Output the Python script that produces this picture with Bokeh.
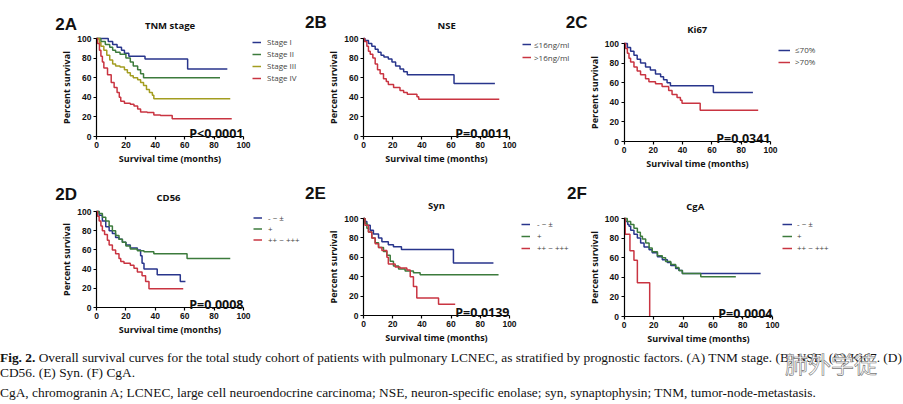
from bokeh.plotting import figure
from bokeh.models import Range1d, Label, Legend, LegendItem, Div, LinearAxis
from bokeh.layouts import row, column
from bokeh.embed import file_html
from bokeh.resources import INLINE

# ---------------- data ----------------
ticks = [0, 20, 40, 60, 80, 100]

# 2A TNM stage
tnm_labels = ["Stage I", "Stage II", "Stage III", "Stage IV"]
tnm_I_t = [0, 8, 11, 14, 17, 19, 22, 33, 62, 89]
tnm_I_s = [100, 97, 94, 91, 88, 85, 82, 79, 69, 69]
tnm_II_t = [0, 3, 6, 9, 11, 13, 16, 20, 23, 25, 28, 30, 32, 84]
tnm_II_s = [100, 97, 94, 91, 88, 86, 84, 80, 76, 72, 68, 64, 60, 60]
tnm_III_t = [0, 2, 3, 5, 7, 9, 11, 13, 16, 19, 21, 23, 25, 28, 30, 32, 34, 36, 38, 39, 91]
tnm_III_s = [100, 96, 92, 88, 83, 78, 74, 72, 71, 68, 65, 62, 60, 58, 55, 52, 48, 45, 42, 38.5, 38.5]
tnm_IV_t = [0, 0.7, 2, 3, 4, 5, 7.5, 10, 12, 14, 15.5, 16.5, 19, 23, 25.5, 28, 30, 34.5, 39, 43.5, 51.5, 92]
tnm_IV_s = [100, 95, 88, 82, 76, 70, 63, 55, 50, 45, 40, 36, 34, 33, 31, 28, 25, 24.5, 22, 21.5, 18, 18]

# 2B NSE
nse_labels = ["\u226416ng/ml", ">16ng/ml"]
nse_lo_t = [0, 1, 3.4, 5.7, 8, 10, 12, 14, 17, 19.5, 22, 25, 27.5, 30, 62, 90]
nse_lo_s = [100, 98, 95, 92, 89, 86, 83, 81, 79, 76, 72, 69, 66, 63, 54, 54]
nse_hi_t = [0, 0.7, 2.3, 3.4, 4.6, 6.4, 8, 9.6, 11.4, 13.7, 15.6, 17, 20.6, 25, 27.5, 30, 36.6, 37.8, 93]
nse_hi_s = [100, 97, 92, 87, 84, 80, 74, 68, 64, 59, 56, 53, 50, 47, 45, 43, 40.5, 38, 38]

# 2C Ki67
ki_labels = ["\u226470%", ">70%"]
ki_lo_t = [0, 2.3, 4.5, 6.8, 9, 11.3, 14.7, 18, 21.5, 25, 27, 29.4, 31.7, 61, 88]
ki_lo_s = [100, 96, 92, 88, 84, 80, 76, 73, 69, 66, 63, 60, 57, 50, 50]
ki_hi_t = [0, 1.1, 2.3, 3.4, 4.5, 6.8, 9, 11.3, 14.7, 17, 21.5, 26, 30.5, 32.8, 36.2, 38.5, 39.6, 52, 91.6]
ki_hi_s = [100, 95, 90, 85, 81, 76, 72, 68, 64, 61, 59, 56, 52, 48, 45, 42, 39, 32, 32]

# 2D CD56
grade_labels = ["- ~ \u00b1", "+", "++ ~ +++"]
cd_neg_t = [0, 1.8, 4, 6.3, 8.6, 10.8, 13, 15.3, 17.6, 20, 23, 27.8, 30, 31, 32.3, 41.3, 57, 60.5]
cd_neg_s = [100, 96, 90, 84, 80, 77, 73, 71, 68, 65, 62, 60, 54, 46, 40, 34, 27, 27]
cd_pos_t = [0, 1.8, 4, 6.3, 8.6, 10.8, 13, 15.3, 17.6, 20, 23, 27.8, 32.3, 39, 61.6, 91]
cd_pos_s = [100, 98, 94, 90, 85, 80, 75, 71, 68, 64, 61, 59, 58, 56, 51, 51]
cd_strong_t = [0, 0.7, 1.8, 3, 4, 5.5, 7.4, 8.6, 10.8, 13, 15.3, 16.5, 18.7, 23, 25.5, 27.8, 31, 33.4, 35.7, 59]
cd_strong_s = [100, 95, 90, 85, 80, 76, 70, 65, 60, 56, 51, 48, 46, 44, 41, 37, 33, 27, 19.5, 19.5]

# 2E Syn
syn_neg_t = [0, 1, 2.3, 4.6, 6.8, 10.3, 12.6, 17, 20.5, 26, 61.6, 89]
syn_neg_s = [100, 97, 93, 88, 84, 80, 76, 73, 71, 68, 54, 54]
syn_pos_t = [0, 1, 2.3, 3.4, 5.7, 8, 10.3, 13.7, 16, 18.3, 20.5, 24, 28.5, 34.2, 38.8, 92.5]
syn_pos_s = [100, 95, 90, 86, 80, 75, 70, 66, 62, 56, 51, 48, 46, 44, 42, 42]
syn_strong_t = [0, 1, 3.4, 5.7, 8, 10.3, 12.6, 16, 17, 21.7, 25, 29.7, 32, 34.2, 36.5, 51.4, 62.8]
syn_strong_s = [100, 93, 86, 80, 74, 70, 67, 60, 53, 50, 49, 47, 40, 30, 18, 11.5, 11.5]

# 2F CgA
cga_neg_t = [0, 1.1, 2.5, 3.4, 4.5, 6.7, 9, 11.2, 13.5, 16.9, 19, 22.5, 25.8, 29.2, 31.5, 34.8, 37, 39.3, 92]
cga_neg_s = [100, 97, 94, 92, 88, 84, 80, 75, 71, 68, 65, 61, 58, 55, 52, 49, 47, 44, 44]
cga_pos_t = [0, 2.2, 4.5, 6.7, 9, 11, 12.4, 14.6, 16.9, 19, 22.5, 25.8, 28, 31.5, 34.8, 37, 39.3, 51.7, 75.3]
cga_pos_s = [100, 97, 94, 90, 86, 82, 79, 75, 70, 66, 62, 60, 56, 53, 50, 47, 44, 40.5, 40.5]
cga_strong_t = [0, 0.8, 4, 6.7, 9, 17.3]
cga_strong_s = [100, 84, 67, 57.5, 34.5, 0]

p_values = ["P<0.0001", "P=0.0011", "P=0.0341", "P=0.0008", "P=0.0139", "P=0.0004"]
titles = ["TNM stage", "NSE", "Ki67", "CD56", "Syn", "CgA"]
letters = ["2A", "2B", "2C", "2D", "2E", "2F"]

BLUE = "#28358c"
GREEN = "#3c7b3c"
OLIVE = "#a39d20"
RED = "#c93441"

SANS = "Open Sans"


def letter_label(x, y, text):
    return Label(x=x, y=y, text=text, text_align="left", text_baseline="alphabetic",
                 text_font="Liberation Sans", text_font_style="bold",
                 text_font_size="17px", text_color="#111111")


def panel(fig_box, plot_box, curves, colors, labels, title, title_xy,
          letter, letter_xy, pval, leg_px, leg_h, leg_sp, leg_gw, leg_so):
    fx, fy, w, h = fig_box
    x0, x100, y100, y0 = plot_box
    kx = (x100 - x0) / 100.0
    xs = -(x0 - fx) / kx
    ky = (y0 - y100) / 100.0
    ys = -((fy + h) - y0) / ky
    p = figure(width=w, height=h, output_backend="svg", toolbar_location=None,
               x_range=Range1d(xs, xs + w / kx), y_range=Range1d(ys, ys + h / ky),
               x_axis_location=None, y_axis_location=None,
               min_border=0, min_border_left=0, min_border_right=0,
               min_border_top=0, min_border_bottom=0)
    p.outline_line_color = None
    p.grid.visible = False
    p.background_fill_color = "white"
    p.border_fill_color = "white"
    xa = LinearAxis(fixed_location=0, bounds=(0, 100), axis_label="Survival time (months)")
    ya = LinearAxis(fixed_location=0, bounds=(0, 100), axis_label="Percent survival")
    for ax in (xa, ya):
        ax.ticker = ticks
        ax.minor_tick_line_color = None
        ax.axis_line_color = "black"
        ax.axis_line_width = 1.2
        ax.major_tick_line_color = "black"
        ax.major_tick_line_width = 1.2
        ax.major_tick_in = 0
        ax.major_tick_out = 3
        ax.major_label_standoff = 2
        ax.major_label_text_font = "Liberation Sans"
        ax.major_label_text_font_style = "bold"
        ax.major_label_text_font_size = "8.5px"
        ax.major_label_text_color = "#111111"
        ax.axis_label_text_font = SANS
        ax.axis_label_text_font_style = "bold"
        ax.axis_label_text_font_size = "9px"
        ax.axis_label_text_color = "#111111"
    xa.axis_label_standoff = 1
    ya.axis_label_standoff = 1
    p.add_layout(xa, "below")
    p.add_layout(ya, "left")

    items = []
    for (t, s), c, lab in zip(curves, colors, labels):
        r = p.step(t, s, mode="after", line_color=c, line_width=1.5)
        items.append(LegendItem(label=lab, renderers=[r]))
    # legend position in pixels from the figure's bottom-left corner
    lx, ly_top = leg_px
    n = len(labels)
    leg_height = n * leg_h + (n - 1) * leg_sp
    loc = (lx - fx, (fy + h) - (ly_top + leg_height))
    leg = Legend(items=items, location=loc, orientation="vertical",
                 padding=0, margin=0, spacing=leg_sp, glyph_width=leg_gw, glyph_height=leg_h,
                 label_height=leg_h, label_standoff=leg_so,
                 label_text_font=SANS, label_text_font_size="8px",
                 label_text_color="#444444",
                 border_line_alpha=0, background_fill_alpha=0)
    p.add_layout(leg, "center")

    p.add_layout(Label(x=title_xy[0], y=100 + title_xy[1], text=title, text_align="center",
                       text_baseline="alphabetic", text_font=SANS, text_font_style="bold",
                       text_font_size="9.5px", text_color="#111111"))
    if letter:
        p.add_layout(letter_label(letter_xy[0], 100 + letter_xy[1], letter))
    p.add_layout(Label(x=100, y=3, text=pval, text_align="right", text_baseline="alphabetic",
                       text_font=SANS, text_font_style="bold", text_font_size="12.5px",
                       text_color="#111111"))
    return p


SPLIT = 588

pA = panel((0, 0, 300, 177), (96, 243, 38, 136),
           [(tnm_I_t, tnm_I_s), (tnm_II_t, tnm_II_s), (tnm_III_t, tnm_III_s), (tnm_IV_t, tnm_IV_s)],
           [BLUE, GREEN, OLIVE, RED], tnm_labels, titles[0], (50, 13),
           letters[0], (-28, 14), p_values[0], (252, 40), 10, 1, 9, 6)
pB = panel((300, 0, SPLIT - 300, 177), (363, 509, 38, 136),
           [(nse_lo_t, nse_lo_s), (nse_hi_t, nse_hi_s)],
           [BLUE, RED], nse_labels, titles[1], (57, 13),
           letters[1], (-40, 16), p_values[1], (522, 38), 12, 1, 9, 3)
# panel letter "2C" sits to the left of the Ki67 panel, over the NSE figure's canvas
pB.add_layout(letter_label(138.6, 116.3, letters[2]))
pC = panel((SPLIT, 0, 903 - SPLIT, 177), (623.5, 770, 43, 141),
           [(ki_lo_t, ki_lo_s), (ki_hi_t, ki_hi_s)],
           [BLUE, RED], ki_labels, titles[2], (50, 14),
           None, None, p_values[2], (778, 46), 10, 1, 12, 5)
pD = panel((0, 177, 300, 168), (96, 243, 211, 307),
           [(cd_neg_t, cd_neg_s), (cd_pos_t, cd_pos_s), (cd_strong_t, cd_strong_s)],
           [BLUE, GREEN, RED], grade_labels, titles[3], (49, 14.5),
           letters[3], (-28, 18), p_values[3], (253, 212), 11, 0, 9, 6)
pE = panel((300, 177, SPLIT - 300, 168), (363, 509, 218, 315),
           [(syn_neg_t, syn_neg_s), (syn_pos_t, syn_pos_s), (syn_strong_t, syn_strong_s)],
           [BLUE, GREEN, RED], grade_labels, titles[4], (50, 13),
           letters[4], (-40, 26), p_values[4], (521, 221), 10, 1, 9, 7)
pE.add_layout(letter_label(139.4, 125.8, letters[5]))
pF = panel((SPLIT, 177, 903 - SPLIT, 168), (623.5, 772, 218, 316),
           [(cga_neg_t, cga_neg_s), (cga_pos_t, cga_pos_s), (cga_strong_t, cga_strong_s)],
           [BLUE, GREEN, RED], grade_labels, titles[5], (48, 12),
           None, None, p_values[5], (782, 221), 10, 1, 10, 5)

caption_line1 = ("<b>Fig. 2.</b> Overall survival curves for the total study cohort of patients with "
                 "pulmonary LCNEC, as stratified by prognostic factors. (A) TNM stage. (B) NSE. (C) Ki67. (D)")
caption_line2 = "CD56. (E) Syn. (F) CgA."
caption_line3 = ("CgA, chromogranin A; LCNEC, large cell neuroendocrine carcinoma; NSE, neuron-specific "
                 "enolase; syn, synaptophysin; TNM, tumor-node-metastasis.")
watermark = "\u80ba\u5916\u5b66\u5f92"

html = (
    "<div style=\"position:relative;width:903px;height:59px;font-family:'Liberation Serif',serif;"
    "font-size:13.4px;color:#111;white-space:nowrap;\">"
    "<div style=\"line-height:15px;padding-top:4.5px;\">" + caption_line1 + "<br>" + caption_line2 + "</div>"
    "<div style=\"line-height:15px;margin-top:5px;\">" + caption_line3 + "</div>"
    "<div style=\"position:absolute;left:785px;top:5px;font-family:'Noto Sans CJK SC';font-size:23px;"
    "line-height:26px;color:rgba(255,255,255,0.85);-webkit-text-stroke:0.6px #777;\">" + watermark + "</div>"
    "</div>"
)
cap = Div(text=html, width=903, height=59, margin=(0, 0, 0, 0))

layout = column(row(pA, pB, pC, spacing=0), row(pD, pE, pF, spacing=0), cap, spacing=0)

with open("out.html", "w") as f:
    f.write(file_html(layout, INLINE))
